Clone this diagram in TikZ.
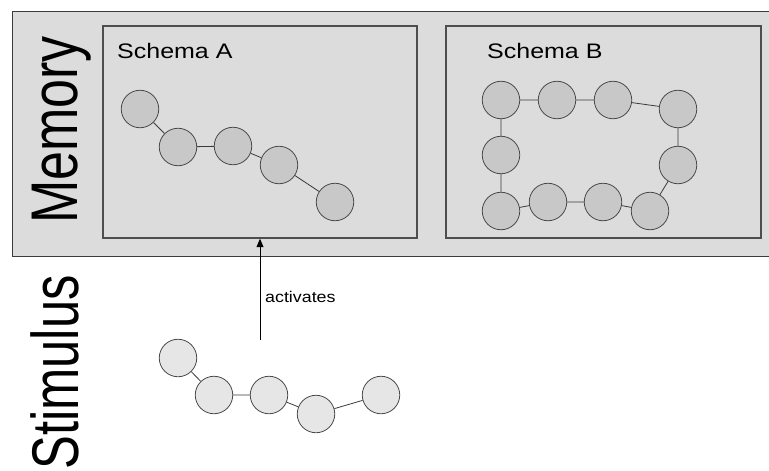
\documentclass[tikz,border=0pt]{standalone}
\usepackage{fontspec}
\setmainfont{Liberation Sans}
\usetikzlibrary{arrows.meta}
\definecolor{panel}{HTML}{DCDCDC}
\definecolor{panelline}{HTML}{3C3C3C}
\definecolor{boxline}{HTML}{4E4E4E}
\definecolor{memfill}{HTML}{C8C8C8}
\definecolor{stimfill}{HTML}{E6E6E6}
\definecolor{ringline}{HTML}{4A4A4A}
\definecolor{linkline}{HTML}{3A3A3A}
\begin{document}
\begin{tikzpicture}[x=1pt,y=-1pt,
  schemabox/.style={draw=boxline, line width=1.4pt, fill=panel, rectangle,
    minimum width=314pt, minimum height=212pt, inner sep=0pt},
  memnode/.style={circle, draw=ringline, fill=memfill, line width=0.8pt,
    minimum size=37.5pt, inner sep=0pt},
  stimnode/.style={memnode, fill=stimfill},
  link/.style={draw=linkline, line width=0.8pt},
  biglabel/.style={rotate=90, inner sep=0pt, font=\fontsize{52}{60}\selectfont},
  schemalabel/.style={anchor=base west, inner sep=0pt, font=\fontsize{21}{25}\selectfont},
  activation/.style={draw=black, line width=0.9pt, -{Triangle[length=8.5pt,width=7pt]}}
]
\clip (0,0) rectangle (769,471);

% memory panel
\draw[panelline, fill=panel, line width=1pt] (12,11) rectangle (790,256);
\node[biglabel, anchor=base] (memlabel) at (77,130) {\scalebox{1}[1.27]{Memory}};

% schema frames
\node[schemabox] (schemaA) at (260,132) {};
\node[schemabox, minimum width=315pt] (schemaB) at (603.5,132) {};
\node[schemalabel] (labelA) at (117,58) {\scalebox{1.19}[1]{Schema A}};
\node[schemalabel] (labelB) at (487,58) {\scalebox{1.19}[1]{Schema B}};

% schema A chain
\node[memnode] (a1) at (140,109) {};
\node[memnode] (a2) at (178,147) {};
\node[memnode] (a3) at (233,146) {};
\node[memnode] (a4) at (279,165) {};
\node[memnode] (a5) at (335,202) {};
\draw[link] (a1) -- (a2) -- (a3) -- (a4) -- (a5);

% schema B ring
\node[memnode] (b1) at (501,100) {};
\node[memnode] (b2) at (557,100) {};
\node[memnode] (b3) at (613,100) {};
\node[memnode] (b4) at (678,109) {};
\node[memnode] (b5) at (678,165) {};
\node[memnode] (b6) at (650,211) {};
\node[memnode] (b7) at (603,202) {};
\node[memnode] (b8) at (548,202) {};
\node[memnode] (b9) at (501,211) {};
\node[memnode] (b10) at (501,155) {};
\draw[link] (b1) -- (b2) -- (b3) -- (b4) -- (b5) -- (b6) -- (b7) -- (b8) -- (b9) -- (b10) -- (b1);

% stimulus
\node[biglabel, anchor=base east] (stimlabel) at (78,275) {\scalebox{0.975}[1.27]{Stimulus}};
\node[stimnode] (s1) at (178,358) {};
\node[stimnode] (s2) at (214,395) {};
\node[stimnode] (s3) at (269,395) {};
\node[stimnode] (s4) at (316,414) {};
\node[stimnode] (s5) at (381,395) {};
\draw[link] (s1) -- (s2) -- (s3) -- (s4) -- (s5);

% activation arrow
\coordinate (stimtop) at (260,340);
\draw[activation] (stimtop) -- (schemaA.south);
\node[anchor=west, inner sep=0pt, font=\fontsize{15.5}{18}\selectfont] (act) at (265,297)
  {\scalebox{1.15}[1]{activates}};
\end{tikzpicture}
\end{document}
